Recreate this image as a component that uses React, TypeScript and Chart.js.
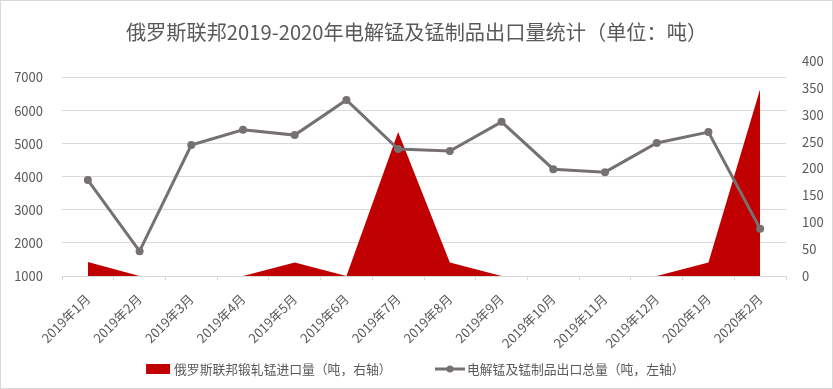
import React, { useEffect, useRef } from "react";
import { Chart, registerables } from "chart.js";

Chart.register(...registerables);

const TITLE = "俄罗斯联邦2019-2020年电解锰及锰制品出口量统计（单位：吨）";
const CATEGORIES = [
  "2019年1月", "2019年2月", "2019年3月", "2019年4月", "2019年5月", "2019年6月",
  "2019年7月", "2019年8月", "2019年9月", "2019年10月", "2019年11月", "2019年12月",
  "2020年1月", "2020年2月",
];
const AREA_NAME = "俄罗斯联邦锻轧锰进口量（吨，右轴）";
const LINE_NAME = "电解锰及锰制品出口总量（吨，左轴）";
const IMPORT_RIGHT = [26, 0, 0, 0, 25, 0, 268, 25, 0, 0, 0, 0, 25, 348];
const EXPORT_LEFT = [3900, 1750, 4960, 5420, 5260, 6320, 4840, 4780, 5660, 4230, 4140, 5020, 5350, 2430];
const LEFT_TICKS = [1000, 2000, 3000, 4000, 5000, 6000, 7000];
const RIGHT_TICKS = [0, 50, 100, 150, 200, 250, 300, 350, 400];

const RED = "#C00000";
const GRAY = "#767171";
const TEXT = "#595959";
const GRID = "#D9D9D9";
const FONT = '"Noto Sans CJK SC", "Noto Sans", sans-serif';

function makeAreaSymbol(): HTMLCanvasElement {
  const c = document.createElement("canvas");
  c.width = 60;
  c.height = 14;
  const ctx = c.getContext("2d")!;
  ctx.fillStyle = RED;
  ctx.fillRect(30 - 12, 2, 24, 10);
  return c;
}

function makeLineSymbol(): HTMLCanvasElement {
  const c = document.createElement("canvas");
  c.width = 60;
  c.height = 14;
  const ctx = c.getContext("2d")!;
  ctx.strokeStyle = GRAY;
  ctx.lineWidth = 3;
  ctx.beginPath();
  ctx.moveTo(30 - 15 - 1, 7);
  ctx.lineTo(30 + 15 - 1, 7);
  ctx.stroke();
  ctx.fillStyle = GRAY;
  ctx.beginPath();
  ctx.arc(30 - 1, 7, 3.5, 0, Math.PI * 2);
  ctx.fill();
  return c;
}

const borderPlugin = {
  id: "outerBorder",
  afterDraw(chart: any) {
    const ctx = chart.ctx;
    ctx.save();
    ctx.strokeStyle = GRID;
    ctx.lineWidth = 1;
    ctx.strokeRect(0.5, 0.5, chart.width - 1, chart.height - 1);
    ctx.restore();
  },
};

export default function App() {
  const ref = useRef<HTMLCanvasElement | null>(null);

  useEffect(() => {
    if (!ref.current) return;
    const areaSym = makeAreaSymbol();
    const lineSym = makeLineSymbol();
    const chart = new Chart(ref.current, {
      type: "line",
      data: {
        labels: CATEGORIES,
        datasets: [
          {
            label: AREA_NAME,
            data: IMPORT_RIGHT,
            yAxisID: "yR",
            borderWidth: 0,
            borderColor: RED,
            backgroundColor: RED,
            fill: "origin",
            pointRadius: 0,
            tension: 0,
            order: 2,
          },
          {
            label: LINE_NAME,
            data: EXPORT_LEFT,
            yAxisID: "yL",
            borderColor: GRAY,
            backgroundColor: GRAY,
            borderWidth: 3,
            pointRadius: 4,
            pointBackgroundColor: GRAY,
            pointBorderColor: GRAY,
            pointBorderWidth: 0,
            fill: false,
            tension: 0,
            order: 1,
          },
        ],
      },
      options: {
        responsive: false,
        animation: false,
        devicePixelRatio: 1,
        layout: { padding: { left: 0, right: 0, top: 0, bottom: 3.6 } },
        plugins: {
          tooltip: { enabled: false },
          title: {
            display: true,
            text: TITLE,
            color: TEXT,
            font: { family: FONT, size: 20.2, weight: "normal" },
            padding: { top: 20, bottom: 16.76 },
          },
          legend: {
            position: "bottom",
            labels: {
              usePointStyle: true,
              pointStyleWidth: 19.2,
              padding: 49.8,
              color: TEXT,
              font: { family: FONT, size: 12.8 },
              generateLabels: () => [
                {
                  text: AREA_NAME,
                  pointStyle: areaSym,
                  fillStyle: RED,
                  strokeStyle: RED,
                  lineWidth: 0,
                  hidden: false,
                  datasetIndex: 0,
                  fontColor: TEXT,
                } as any,
                {
                  text: LINE_NAME,
                  pointStyle: lineSym,
                  fillStyle: GRAY,
                  strokeStyle: GRAY,
                  lineWidth: 0,
                  hidden: false,
                  datasetIndex: 1,
                  fontColor: TEXT,
                } as any,
              ],
            },
          },
        },
        scales: {
          x: {
            type: "category",
            offset: true,
            grid: {
              display: true,
              offset: true,
              drawOnChartArea: false,
              drawTicks: true,
              tickLength: 4,
              color: GRID,
            },
            border: { display: true, color: GRID },
            ticks: {
              color: TEXT,
              font: { family: FONT, size: 13 },
              minRotation: 45,
              maxRotation: 45,
              autoSkip: false,
              padding: 11,
            },
            afterFit(scale: any) {
              scale.height = 36.8;
              // let the rotated labels run below the (short) axis box
              scale._computeLabelArea = () => undefined;
            },
          },
          yL: {
            type: "linear",
            position: "left",
            min: 1000,
            max: 7500,
            grid: { color: GRID, drawTicks: false },
            border: { display: false },
            ticks: {
              color: TEXT,
              font: { family: FONT, size: 13 },
              padding: 19,
              stepSize: 1000,
              callback: (v: any) => String(v),
            },
            afterBuildTicks(scale: any) {
              scale.ticks = LEFT_TICKS.map((v) => ({ value: v }));
            },
            afterFit(scale: any) {
              scale.width = 62;
            },
          },
          yR: {
            type: "linear",
            position: "right",
            min: 0,
            max: 400,
            grid: { display: false, drawOnChartArea: false, drawTicks: false },
            border: { display: false },
            ticks: {
              color: TEXT,
              font: { family: FONT, size: 13 },
              padding: 16,
              stepSize: 50,
              callback: (v: any) => String(v),
            },
            afterBuildTicks(scale: any) {
              scale.ticks = RIGHT_TICKS.map((v) => ({ value: v }));
            },
            afterFit(scale: any) {
              scale.width = 47;
            },
          },
        },
      },
      plugins: [borderPlugin],
    });
    return () => chart.destroy();
  }, []);

  return (
    <div style={{ position: "absolute", left: 0, top: 0, width: 833, height: 389, background: "#fff" }}>
      <canvas ref={ref} width={833} height={389} style={{ display: "block" }} />
    </div>
  );
}
